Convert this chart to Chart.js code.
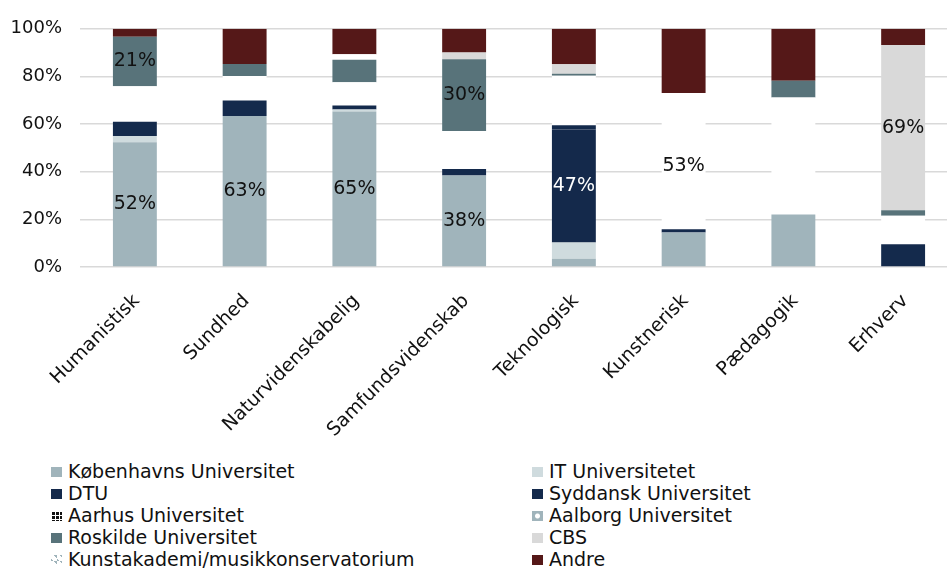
<!DOCTYPE html>
<html>
<head>
<meta charset="utf-8">
<script src="https://cdn.jsdelivr.net/npm/chart.js@4/dist/chart.umd.min.js"></script>
<style>
  body { margin: 0; overflow: hidden; background: #fff; font-family: "DejaVu Sans", sans-serif; }
  #wrap { position: relative; width: 960px; height: 455px; }
  #legend { position: absolute; left: 0; top: 460px; width: 947px; }
  .item { position: absolute; height: 22px; line-height: 22px; font-size: 19px; color: #111; white-space: nowrap; }
  .sw { display: inline-block; width: 11px; height: 10px; margin-right: 6px; vertical-align: 1px; }
</style>
</head>
<body>
<div id="wrap"><canvas id="chart" width="960" height="455"></canvas></div>
<div id="legend"></div>
<script>
const categories = ['Humanistisk', 'Sundhed', 'Naturvidenskabelig', 'Samfundsvidenskab', 'Teknologisk', 'Kunstnerisk', 'Pædagogik', 'Erhverv'];

// andel i procent pr. kategori
const ku      = [52.4, 63.4, 65.3, 38.4, 3.5, 14.5, 22.0, 0];
const itu     = [2.6, 0, 0.8, 0, 6.8, 0, 0, 0];
const dtu     = [0, 0, 0, 0, 47.4, 0, 0, 0];
const sdu     = [6.0, 6.5, 1.7, 2.7, 1.8, 1.3, 0, 9.6];
const au      = [12.0, 8.0, 8.0, 13.0, 16.0, 53.2, 37.0, 9.3];
const aau     = [2.9, 2.3, 1.8, 3.0, 4.8, 4.0, 12.2, 2.6];
const ruc     = [20.8, 5.0, 9.4, 30.1, 0.8, 0, 7.0, 2.3];
const cbs     = [0, 0, 0, 2.9, 4.0, 0, 0, 69.4];
const kunst   = [0, 0, 2.3, 0, 0, 0, 0, 0];
const andre   = [3.3, 14.8, 10.7, 9.9, 14.9, 27.0, 21.8, 6.8];

const yTicks = [0, 20, 40, 60, 80, 100];

// [serie, kategori, farve] for de viste dataetiketter
const shownLabels = [
  [0, 0, '#111'], [0, 1, '#111'], [0, 2, '#111'], [0, 3, '#111'],
  [6, 0, '#111'], [6, 3, '#111'],
  [2, 4, '#fff'],
  [4, 5, '#111'], [4, 6, '#fff'],
  [7, 7, '#111']
];

const series = [
  { name: 'Københavns Universitet', data: ku, color: '#a0b4bb', sw: '#a0b4bb' },
  { name: 'IT Universitetet', data: itu, color: '#cfdbde', sw: '#cfdbde' },
  { name: 'DTU', data: dtu, color: '#14294b', sw: '#14294b' },
  { name: 'Syddansk Universitet', data: sdu, color: '#142a4c', sw: '#142a4c' },
  { name: 'Aarhus Universitet', data: au, color: '#ffffff', sw: 'au' },
  { name: 'Aalborg Universitet', data: aau, color: '#ffffff', sw: 'aau' },
  { name: 'Roskilde Universitet', data: ruc, color: '#58737a', sw: '#58737a' },
  { name: 'CBS', data: cbs, color: '#d9d9d9', sw: '#d9d9d9' },
  { name: 'Kunstakademi/musikkonservatorium', data: kunst, color: '#ffffff', sw: 'kunst' },
  { name: 'Andre', data: andre, color: '#551818', sw: '#551818' }
];

const barLabels = {
  id: 'barLabels',
  afterDatasetsDraw(chart) {
    const c = chart.ctx;
    c.save();
    c.font = '19px "DejaVu Sans"';
    c.textAlign = 'center';
    c.textBaseline = 'middle';
    shownLabels.forEach(([s, i, col]) => {
      const el = chart.getDatasetMeta(s).data[i];
      const v = series[s].data[i];
      c.fillStyle = col;
      c.fillText(Math.round(v) + '%', el.x, (el.y + el.base) / 2);
    });
    c.restore();
  }
};

new Chart(document.getElementById('chart'), {
  type: 'bar',
  data: {
    labels: categories,
    datasets: series.map(s => ({
      label: s.name,
      data: s.data,
      backgroundColor: s.color,
      borderWidth: 0,
      categoryPercentage: 1,
      barPercentage: 0.4
    }))
  },
  options: {
    responsive: false,
    animation: false,
    layout: { padding: { top: 25, right: 2, left: 0, bottom: 0 } },
    plugins: { legend: { display: false }, tooltip: { enabled: false } },
    scales: {
      x: {
        stacked: true,
        grid: { display: false, drawTicks: false },
        border: { display: false },
        ticks: {
          autoSkip: false, minRotation: 45, maxRotation: 45,
          padding: 23, labelOffset: 2,
          color: '#111', font: { family: 'DejaVu Sans', size: 19 }
        },
        afterFit(scale) { scale.height = 188; }
      },
      y: {
        stacked: true, min: 0, max: 100,
        afterBuildTicks(scale) { scale.ticks = yTicks.map(v => ({ value: v })); },
        grid: { color: '#d9d9d9', lineWidth: 1.5, drawTicks: false },
        border: { display: false },
        ticks: {
          padding: 18, color: '#111',
          font: { family: 'DejaVu Sans', size: 18 },
          callback: v => v + '%'
        },
        afterFit(scale) { scale.width = 80; }
      }
    }
  },
  plugins: [barLabels]
});

// forklaring i to kolonner
const swatchCss = {
  au: 'background-color:#111;background-image:linear-gradient(#fff 1px,transparent 1px),linear-gradient(90deg,#fff 1px,transparent 1px);background-size:4px 4px;',
  aau: 'background-color:#a0b4bb;background-image:radial-gradient(circle,#fff 2px,transparent 3px);',
  kunst: 'background-color:#fff;background-image:linear-gradient(45deg,#a0b4bb 25%,transparent 25%,transparent 75%,#a0b4bb 75%);background-size:6px 6px;'
};
const legend = document.getElementById('legend');
series.forEach((s, k) => {
  const col = k % 2, row = Math.floor(k / 2);
  const div = document.createElement('div');
  div.className = 'item';
  div.style.left = (col ? 532 : 51) + 'px';
  div.style.top = (row * 22) + 'px';
  const sw = document.createElement('span');
  sw.className = 'sw';
  sw.style.cssText = swatchCss[s.sw] || ('background:' + s.sw + ';');
  div.appendChild(sw);
  div.appendChild(document.createTextNode(s.name));
  legend.appendChild(div);
});
</script>
</body>
</html>
